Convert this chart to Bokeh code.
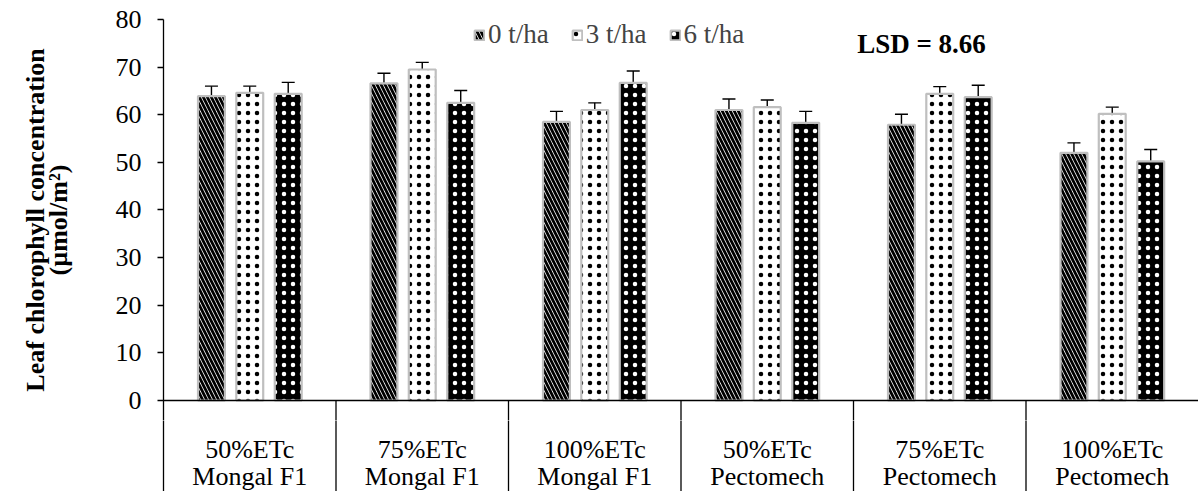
from bokeh.plotting import figure
from bokeh.layouts import column
from bokeh.models import (Range1d, FixedTicker, Span, Label, Legend, LegendItem,
                          Whisker, ColumnDataSource, TeeHead)
from bokeh.embed import file_html
from bokeh.resources import INLINE
from bokeh.core.properties import value

# ---------------- data ----------------
irrigation = ["50%ETc", "75%ETc", "100%ETc", "50%ETc", "75%ETc", "100%ETc"]
cultivars = ["Mongal F1", "Mongal F1", "Mongal F1", "Pectomech", "Pectomech", "Pectomech"]
rates = ["0 t/ha", "3 t/ha", "6 t/ha"]
vals_0 = [63.9, 66.6, 58.5, 61.0, 57.9, 52.0]
vals_3 = [64.6, 69.5, 61.0, 61.6, 64.4, 60.2]
vals_6 = [64.4, 62.5, 66.7, 58.3, 63.7, 50.2]
err_0 = [2.1, 2.1, 2.2, 2.3, 2.2, 2.1]
err_3 = [1.4, 1.5, 1.5, 1.5, 1.5, 1.4]
err_6 = [2.4, 2.6, 2.5, 2.4, 2.5, 2.5]
y_ticks = [0, 10, 20, 30, 40, 50, 60, 70, 80]
lsd_text = "LSD = 8.66"
y_title = "Leaf chlorophyll concentration\n(µmol/m²)"

# ---------------- style ----------------
SERIF = '"Liberation Serif", "Times New Roman", serif'
FS = "26px"
FS_BIG = "27px"
Y_MAX = 80
Y_SPLIT = -4.2      # where the upper panel hands over to the category table
Y_MIN = -19.11
offsets = [-0.222, 0.0, 0.223]
bar_w = 0.156

styles = [
    dict(fill_color="white", hatch_color="black", hatch_pattern="left_diagonal_line",
         hatch_scale=8, hatch_weight=2.8),
    dict(fill_color="white", hatch_color="black", hatch_pattern="dot",
         hatch_scale=9, hatch_weight=1.0),
    dict(fill_color="black", hatch_color="white", hatch_pattern="dot",
         hatch_scale=9, hatch_weight=1.0),
]

xr = Range1d(-0.5, 5.5)


def base_fig(height, yr, top_border):
    f = figure(width=1198, height=height, output_backend="svg", toolbar_location=None,
               x_range=xr, y_range=yr, x_axis_location=None,
               min_border_left=163, min_border_right=0,
               min_border_top=top_border, min_border_bottom=0)
    f.outline_line_color = None
    f.xgrid.visible = False
    f.ygrid.visible = False
    f.background_fill_color = "white"
    f.border_fill_color = "white"
    a = f.yaxis[0]
    a.minor_tick_line_color = None
    a.major_tick_in = 0
    a.major_tick_out = 6
    a.major_tick_line_color = "black"
    a.major_tick_line_width = 1.3
    a.axis_line_color = "black"
    a.axis_line_width = 1.3
    return f


# ---------------- top panel (bars) ----------------
p = base_fig(420, Range1d(Y_SPLIT, Y_MAX), 19)
ax = p.yaxis[0]
ax.ticker = FixedTicker(ticks=y_ticks)
ax.major_label_text_font = SERIF
ax.major_label_text_font_size = FS
ax.major_label_text_color = "black"
ax.major_label_standoff = 16
ax.axis_label = y_title
ax.axis_label_text_font = SERIF
ax.axis_label_text_font_size = FS
ax.axis_label_text_font_style = "bold"
ax.axis_label_text_color = "black"
ax.axis_label_text_line_height = 0.78
ax.axis_label_standoff = 40

series = [vals_0, vals_3, vals_6]
errs = [err_0, err_3, err_6]
items = []
for k, (vals, errv) in enumerate(zip(series, errs)):
    xs = [i + offsets[k] for i in range(len(vals))]
    src = ColumnDataSource(dict(x=xs, top=vals,
                                upper=[v + e for v, e in zip(vals, errv)],
                                lower=[v - e for v, e in zip(vals, errv)]))
    r = p.vbar(x="x", top="top", bottom=0, width=bar_w, source=src,
               line_color="#bfbfbf", line_width=2.2, **styles[k])
    items.append(LegendItem(label=rates[k], renderers=[r]))
    w = Whisker(base="x", upper="upper", lower="lower", source=src,
                line_color="black", line_width=1.4,
                upper_head=TeeHead(size=13, line_color="black", line_width=1.4),
                lower_head=TeeHead(size=13, line_color="black", line_width=1.4))
    p.add_layout(w)

p.add_layout(Span(location=0, dimension="width", line_color="black", line_width=1.3))

bounds = [i + 0.5 for i in range(len(irrigation) - 1)]
p.segment(x0=bounds, y0=[0] * len(bounds), x1=bounds, y1=[Y_MIN] * len(bounds),
          line_color="black", line_width=1.3)

p.add_layout(Label(x=3.894, y=74.8, text=lsd_text, text_font=SERIF, text_font_size=FS_BIG,
                   text_font_style="bold", text_align="center", text_baseline="middle",
                   text_color="black"))

legend = Legend(items=items, orientation="horizontal", location=(310, 370),
                border_line_color=None, background_fill_alpha=0,
                label_text_font=SERIF, label_text_font_size=FS_BIG,
                glyph_width=12, glyph_height=12, spacing=22, padding=0, margin=0,
                label_standoff=3)
p.add_layout(legend)

# ---------------- bottom panel (category table) ----------------
q = base_fig(491 - 420, Range1d(Y_MIN, Y_SPLIT), 0)
q.yaxis[0].ticker = FixedTicker(ticks=[])
q.yaxis[0].major_label_text_color = None
q.segment(x0=bounds, y0=[0] * len(bounds), x1=bounds, y1=[Y_MIN] * len(bounds),
          line_color="black", line_width=1.3)
q.text(x=list(range(len(irrigation))), y=[-10.3] * len(irrigation), text=irrigation,
       text_font=value(SERIF), text_font_size=FS, text_align="center",
       text_baseline="middle", text_color="black")
q.text(x=list(range(len(cultivars))), y=[-16.0] * len(cultivars), text=cultivars,
       text_font=value(SERIF), text_font_size=FS, text_align="center",
       text_baseline="middle", text_color="black")

layout = column(p, q, spacing=0)
open("out.html", "w").write(file_html(layout, INLINE))
